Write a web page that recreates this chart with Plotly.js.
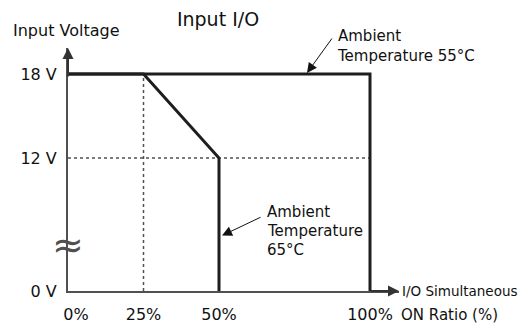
<!DOCTYPE html>
<html>
<head>
<meta charset="utf-8">
<script src="https://cdn.plot.ly/plotly-3.0.1.min.js"></script>
<style>html,body{margin:0;padding:0;background:#fff;}#chart{width:523px;height:327px;}</style>
</head>
<body>
<div id="chart"></div>
<script>
// ---- data ----
const ratio55 = [0, 100, 100];
const volt55 = [18, 18, 0];
const ratio65 = [0, 25, 50, 50];
const volt65 = [18, 18, 12, 0];
const guideHRatio = [0, 100];
const guideHVolt = [12, 12];
const guideVRatio = [25, 25];
const guideVVolt = [0, 18];
const xTickVals = [0, 25, 50, 100];
const xTickText = ['\u20030%', '25%', '50%', '100%'];
const yTickVolts = [0, 12, 18];
const yTickText = ['0 V', '12 V', '18 V'];
const label55 = 'Ambient<br>Temperature 55°C';
const label65 = ['Ambient', 'Temperature', '65°C'];

// broken axis: 0..12 V compressed, 12..18 V linear
const BREAK = 12, LOW = 2.5;
function u(v) { return v >= BREAK ? v : LOW + v * (BREAK - LOW) / BREAK; }

// layout geometry (pixels)
const W = 523, H = 327, L = 68, R = 124, T = 48, B = 36;
const PW = W - L - R, PH = H - T - B;
function px(x) { return (x - L) / PW; }
function py(y) { return (H - B - y) / PH; }

const FONT = 'DejaVu Sans, Verdana, sans-serif';
const AX = '#505050';
const INK = '#1e1e1e';

const yTop = 18 + (74 - T) / 14;
const xRight = (399 - L) / 3.02;

const traces = [
  {x: guideHRatio, y: guideHVolt.map(u), mode: 'lines', line: {color: AX, width: 1.5, dash: 'dot'}, hoverinfo: 'skip'},
  {x: guideVRatio, y: guideVVolt.map(u), mode: 'lines', line: {color: AX, width: 1.5, dash: 'dot'}, hoverinfo: 'skip'},
  {x: ratio55, y: volt55.map(u), mode: 'lines', line: {color: INK, width: 3}, name: '55°C'},
  {x: ratio65, y: volt65.map(u), mode: 'lines', line: {color: INK, width: 3}, name: '65°C'}
];

const annotations = [
  // axis arrowheads
  {x: xRight, y: LOW, ax: -30, ay: 0, text: '', showarrow: true, arrowhead: 2, arrowsize: 1.1, arrowwidth: 2, arrowcolor: '#333'},
  {x: 0, y: yTop, ax: 0, ay: 30, text: '', showarrow: true, arrowhead: 2, arrowsize: 1.1, arrowwidth: 2, arrowcolor: '#333'},
  // pointer arrows
  {x: (307 - L) / 3.02, y: 18.07, ax: 26, ay: -36, text: '', showarrow: true, arrowhead: 2, arrowsize: 2, arrowwidth: 1, arrowcolor: '#111'},
  {x: (222 - L) / 3.02, y: u(5), ax: 40, ay: -19, text: '', showarrow: true, arrowhead: 2, arrowsize: 2, arrowwidth: 1, arrowcolor: '#111'},
  // labels
  {xref: 'paper', yref: 'paper', x: px(335), y: py(46), xanchor: 'left', yanchor: 'middle', align: 'left', showarrow: false,
   text: label55, font: {family: FONT, size: 15, color: '#111'}},
  {xref: 'paper', yref: 'paper', x: px(265), y: py(212), xanchor: 'left', yanchor: 'middle', align: 'left', showarrow: false,
   text: label65[0], font: {family: FONT, size: 15, color: '#111'}},
  {xref: 'paper', yref: 'paper', x: px(265), y: py(231), xanchor: 'left', yanchor: 'middle', align: 'left', showarrow: false,
   text: label65[1], font: {family: FONT, size: 15, color: '#111'}},
  {xref: 'paper', yref: 'paper', x: px(265), y: py(250), xanchor: 'left', yanchor: 'middle', align: 'left', showarrow: false,
   text: label65[2], font: {family: FONT, size: 15, color: '#111'}},
  // axis titles
  {xref: 'paper', yref: 'paper', x: px(11), y: py(31), xanchor: 'left', yanchor: 'middle', showarrow: false,
   text: 'Input Voltage', font: {family: FONT, size: 16, color: '#111'}},
  {xref: 'paper', yref: 'paper', x: px(400), y: py(291), xanchor: 'left', yanchor: 'middle', showarrow: false,
   text: 'I/O Simultaneous', font: {family: FONT, size: 13.5, color: '#111'}},
  {xref: 'paper', yref: 'paper', x: px(399), y: py(315), xanchor: 'left', yanchor: 'middle', showarrow: false,
   text: 'ON Ratio (%)', font: {family: FONT, size: 15, color: '#111'}},
  // axis break mark
  {xref: 'paper', yref: 'paper', x: 0, y: py(245), xanchor: 'center', yanchor: 'middle', showarrow: false,
   text: '\u2248', font: {family: FONT, size: 38, color: AX}}
];

const layout = {
  width: W, height: H,
  margin: {l: L, r: R, t: T, b: B},
  paper_bgcolor: '#fff', plot_bgcolor: '#fff',
  showlegend: false,
  title: {text: 'Input I/O', x: 218 / W, xanchor: 'center', y: 1 - 19 / H, yanchor: 'middle',
          font: {family: FONT, size: 19, color: '#111'}},
  xaxis: {range: [0, xRight], showgrid: false, zeroline: false, showline: true, linecolor: AX, linewidth: 2,
          tickmode: 'array', tickvals: xTickVals, ticktext: xTickText, ticks: '', ticklabelstandoff: 8,
          tickfont: {family: FONT, size: 16, color: '#111'}, fixedrange: true},
  yaxis: {range: [LOW, yTop], showgrid: false, zeroline: false, showline: true, linecolor: AX, linewidth: 2,
          tickmode: 'array', tickvals: yTickVolts.map(u), ticktext: yTickText, ticks: '', ticklabelstandoff: 6,
          tickfont: {family: FONT, size: 16, color: '#111'}, fixedrange: true},
  annotations: annotations
};

Plotly.newPlot('chart', traces, layout, {displayModeBar: false, staticPlot: true});
</script>
</body>
</html>
